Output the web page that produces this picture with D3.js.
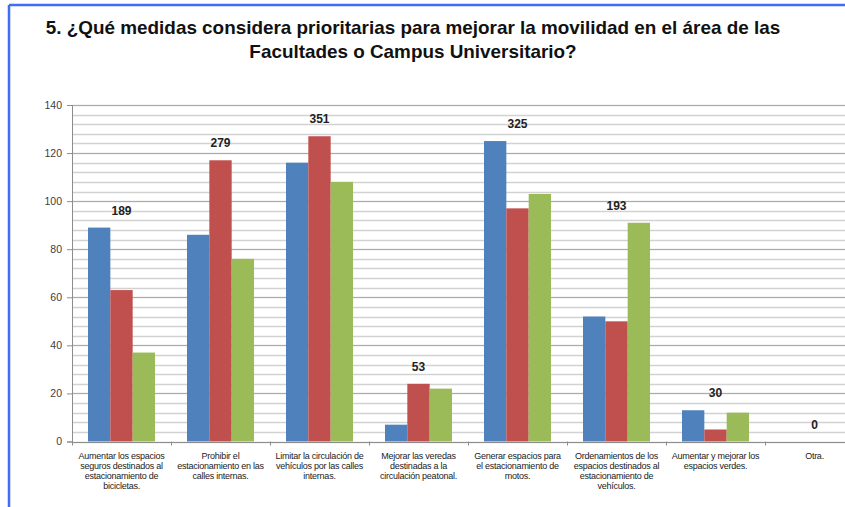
<!DOCTYPE html>
<html>
<head>
<meta charset="utf-8">
<script src="https://cdn.jsdelivr.net/npm/d3@7"></script>
<style>
  body { margin: 0; background: #fff; }
  svg { display: block; }
</style>
</head>
<body>
<script>
// data
var categories = [
  "Aumentar los espacios\nseguros destinados al\nestacionamiento de\nbicicletas.",
  "Prohibir el\nestacionamiento en las\ncalles internas.",
  "Limitar la circulación de\nvehículos por las calles\ninternas.",
  "Mejorar las veredas\ndestinadas a la\ncirculación peatonal.",
  "Generar espacios para\nel estacionamiento de\nmotos.",
  "Ordenamientos de los\nespacios destinados al\nestacionamiento de\nvehículos.",
  "Aumentar  y mejorar los\nespacios verdes.",
  "Otra."
];
var seriesNames = ["Serie 1", "Serie 2", "Serie 3"];
var serie1 = [89, 86, 116, 7, 125, 52, 13, 0];
var serie2 = [63, 117, 127, 24, 97, 50, 5, 0];
var serie3 = [37, 76, 108, 22, 103, 91, 12, 0];
var totals = [189, 279, 351, 53, 325, 193, 30, 0];
var yTicks = [0, 20, 40, 60, 80, 100, 120, 140];

var titleLines = [
  "5. ¿Qué medidas considera prioritarias para mejorar la movilidad en el área de las",
  "Facultades o Campus Universitario?"
];

var colors = ["#4f81bd", "#c0504d", "#9bbb59"];

var W = 845, H = 507;
var margin = {top: 105, left: 72, bottom: 65};
var step = 99;

var svg = d3.select("body").append("svg")
  .attr("width", W)
  .attr("height", H);

// blue frame on top and left
svg.append("line")
  .attr("x1", 9).attr("x2", W).attr("y1", 5).attr("y2", 5)
  .style("stroke", "#3f6ef5").style("stroke-width", 2.5);
svg.append("line")
  .attr("x1", 9).attr("x2", 9).attr("y1", 5).attr("y2", H)
  .style("stroke", "#3f6ef5").style("stroke-width", 2.5);

// title
var title = svg.append("g").attr("class", "title");
title.selectAll("text")
  .data(titleLines)
  .enter()
  .append("text")
  .attr("x", 413)
  .attr("y", function(d, i) { return 34 + i * 24; })
  .attr("text-anchor", "middle")
  .style("font-family", "'Liberation Sans', Arial, sans-serif")
  .style("font-weight", "bold")
  .style("font-size", "18px")
  .style("fill", "#111")
  .text(function(d) { return d; });
// fit first line to the width in the picture
var t0 = title.select("text").node();
var len = t0.getComputedTextLength();
title.selectAll("text").style("font-size", (18 * 735 / len) + "px");

// scales
var y = d3.scaleLinear().domain([0, 140]).range([H - margin.bottom - 0.5, margin.top]);
var x = d3.scaleBand()
  .domain(categories)
  .range([margin.left, margin.left + step * categories.length])
  .paddingInner(0.323)
  .paddingOuter(0.1615);
var xs = d3.scaleBand().domain(seriesNames).range([0, x.bandwidth()]);

// minor gridlines every 4
svg.append("g")
  .selectAll("line")
  .data(d3.range(0, 141, 4))
  .enter()
  .append("line")
  .attr("x1", margin.left).attr("x2", W)
  .attr("y1", function(d) { return Math.round(y(d)) + 0.5; })
  .attr("y2", function(d) { return Math.round(y(d)) + 0.5; })
  .style("stroke", "#d2d2d2")
  .style("stroke-width", 1.3);

// major gridlines
svg.append("g")
  .selectAll("line")
  .data(yTicks.slice(1))
  .enter()
  .append("line")
  .attr("x1", margin.left).attr("x2", W)
  .attr("y1", function(d) { return Math.round(y(d)) + 0.5; })
  .attr("y2", function(d) { return Math.round(y(d)) + 0.5; })
  .style("stroke", "#ababab")
  .style("stroke-width", 1);

// bars
var allSeries = [serie1, serie2, serie3];
var barData = [];
categories.forEach(function(c, i) {
  allSeries.forEach(function(s, j) {
    barData.push({cat: c, series: seriesNames[j], value: s[i], color: colors[j]});
  });
});

svg.append("g")
  .selectAll("rect")
  .data(barData)
  .enter()
  .append("rect")
  .attr("x", function(d) { return x(d.cat) + xs(d.series); })
  .attr("y", function(d) { return y(d.value); })
  .attr("width", xs.bandwidth())
  .attr("height", function(d) { return y(0) - y(d.value); })
  .style("fill", function(d) { return d.color; });

// Y axis
var yAxis = svg.append("g")
  .attr("transform", "translate(" + margin.left + ",0)")
  .call(d3.axisLeft(y).tickValues(yTicks).tickSize(5).tickPadding(5));
yAxis.select(".domain").style("stroke", "#8c8c8c");
yAxis.selectAll(".tick line").style("stroke", "#8c8c8c");
yAxis.selectAll("text")
  .style("font-family", "'Liberation Sans', Arial, sans-serif")
  .style("font-size", "10.5px")
  .style("fill", "#404040");

// X axis line and category ticks
var xAxis = svg.append("g");
xAxis.append("line")
  .attr("x1", margin.left).attr("x2", W)
  .attr("y1", Math.round(y(0)) + 0.5).attr("y2", Math.round(y(0)) + 0.5)
  .style("stroke", "#8c8c8c");
xAxis.selectAll(".xtick")
  .data(categories)
  .enter()
  .append("line")
  .attr("class", "xtick")
  .attr("x1", function(d) { return Math.round(x(d) - (x.step() - x.bandwidth()) / 2) + 0.5; })
  .attr("x2", function(d) { return Math.round(x(d) - (x.step() - x.bandwidth()) / 2) + 0.5; })
  .attr("y1", y(0))
  .attr("y2", y(0) + 4)
  .style("stroke", "#8c8c8c");

// category labels
var catLabels = xAxis.selectAll(".cat")
  .data(categories)
  .enter()
  .append("text")
  .attr("class", "cat")
  .attr("text-anchor", "middle")
  .attr("transform", function(d) { return "translate(" + (x(d) + x.bandwidth() / 2) + "," + (y(0) + 17) + ")"; })
  .style("font-family", "'Liberation Sans', Arial, sans-serif")
  .style("font-size", "9px")
  .style("letter-spacing", "-0.25px")
  .style("fill", "#222");
catLabels.selectAll("tspan")
  .data(function(d) { return d.split("\n"); })
  .enter()
  .append("tspan")
  .attr("x", 0)
  .attr("dy", function(d, i) { return i === 0 ? 0 : 10.2; })
  .text(function(d) { return d; });

// totals above each group
svg.append("g")
  .selectAll("text")
  .data(categories)
  .enter()
  .append("text")
  .attr("x", function(d) { return x(d) + x.bandwidth() / 2; })
  .attr("y", function(d, i) {
    var top = Math.max(serie1[i], serie2[i], serie3[i]);
    return y(top) - 13;
  })
  .attr("text-anchor", "middle")
  .style("font-family", "'Liberation Sans', Arial, sans-serif")
  .style("font-weight", "bold")
  .style("font-size", "12px")
  .style("fill", "#222")
  .text(function(d, i) { return totals[i]; });
</script>
</body>
</html>
